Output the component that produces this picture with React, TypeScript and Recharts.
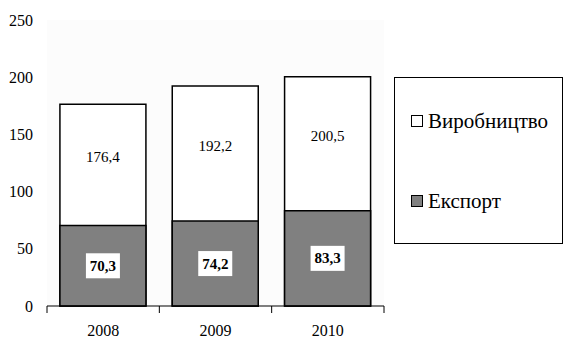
import React from 'react';
import { BarChart, Bar, XAxis, YAxis, LabelList, CartesianGrid } from 'recharts';

const years = ['2008', '2009', '2010'];
const production = [176.4, 192.2, 200.5];
const exportVals = [70.3, 74.2, 83.3];
const yTicks = [0, 50, 100, 150, 200, 250];
const seriesNames = { production: 'Виробництво', export: 'Експорт' };

const data = years.map((y, i) => ({ year: y, production: production[i], export: exportVals[i] }));

const FONT = '"Liberation Serif", "Times New Roman", serif';
const fmt = (v: number) => v.toFixed(1).replace('.', ',');

const ProdLabel = (props: any) => {
  const { x, y, width, height, index } = props;
  const prod = production[index];
  const exp = exportVals[index];
  const expH = (height * exp) / prod;
  const cy = y + (height - expH) / 2 - 8;
  return (
    <text x={x + width / 2} y={cy} textAnchor="middle" dominantBaseline="central" fontFamily={FONT} fontSize={15} fill="#000">
      {fmt(prod)}
    </text>
  );
};

const ExpLabel = (props: any) => {
  const { x, y, width, height, index } = props;
  const cx = x + width / 2;
  const cy = y + height / 2;
  return (
    <g>
      <rect x={cx - 17} y={cy - 12.5} width={34} height={25} fill="#fff" />
      <text x={cx} y={cy} textAnchor="middle" dominantBaseline="central" fontFamily={FONT} fontSize={15} fontWeight="bold" fill="#000">
        {fmt(exportVals[index])}
      </text>
    </g>
  );
};

const XTick = (props: any) => {
  const { x, y, payload, index } = props;
  const off = payload && typeof payload.offset === 'number' && payload.offset > 0 ? payload.offset : 56.17;
  return (
    <g>
      <line x1={x - off} x2={x - off} y1={y} y2={y + 7} stroke="#000" strokeWidth={1} />
      {index === years.length - 1 && <line x1={x + off} x2={x + off} y1={y} y2={y + 7} stroke="#000" strokeWidth={1} />}
      <text x={x} y={y + 24} textAnchor="middle" dominantBaseline="central" fontFamily={FONT} fontSize={16} fill="#000">
        {payload.value}
      </text>
    </g>
  );
};

const LegendBox = () => (
  <div
    style={{
      position: 'absolute',
      left: 394,
      top: 77,
      width: 169,
      height: 167,
      border: '1px solid #000',
      boxSizing: 'border-box',
      background: '#fff',
      fontFamily: FONT,
      fontSize: 21,
      color: '#000',
    }}
  >
    <div style={{ position: 'absolute', left: 16, top: 30, display: 'flex', alignItems: 'center', whiteSpace: 'nowrap', lineHeight: '26px' }}>
      <span style={{ display: 'inline-block', width: 10, height: 10, border: '1px solid #000', background: '#fff', marginRight: 5 }} />
      <span>{seriesNames.production}</span>
    </div>
    <div style={{ position: 'absolute', left: 16, top: 110, display: 'flex', alignItems: 'center', whiteSpace: 'nowrap', lineHeight: '26px' }}>
      <span style={{ display: 'inline-block', width: 10, height: 10, border: '1px solid #000', background: '#808080', marginRight: 5 }} />
      <span>{seriesNames.export}</span>
    </div>
  </div>
);

export default function App() {
  return (
    <div style={{ position: 'absolute', left: 0, top: 0, width: 571, height: 353, background: '#fff' }}>
      <BarChart width={571} height={353} data={data} margin={{ top: 20, right: 187, left: 0, bottom: 0 }} barCategoryGap="11.5%">
        <CartesianGrid horizontal={false} vertical={false} fill="#fcfcfc" />
        <XAxis
          dataKey="year"
          xAxisId="a"
          height={47}
          axisLine={{ stroke: '#000', strokeWidth: 1 }}
          tickLine={false}
          tickSize={0}
          tickMargin={0}
          tick={<XTick />}
          interval={0}
        />
        <XAxis dataKey="year" xAxisId="b" hide />
        <YAxis
          width={47}
          domain={[0, 250]}
          ticks={yTicks}
          axisLine={false}
          tickLine={false}
          tickMargin={8}
          tick={{ fontFamily: FONT, fontSize: 16, fill: '#000' }}
          interval={0}
        />
        <Bar dataKey="production" xAxisId="a" fill="#fff" stroke="#000" strokeWidth={1.5} isAnimationActive={false}>
          <LabelList dataKey="production" content={<ProdLabel />} />
        </Bar>
        <Bar dataKey="export" xAxisId="b" fill="#808080" stroke="#000" strokeWidth={1.5} isAnimationActive={false}>
          <LabelList dataKey="export" content={<ExpLabel />} />
        </Bar>
      </BarChart>
      <LegendBox />
    </div>
  );
}
